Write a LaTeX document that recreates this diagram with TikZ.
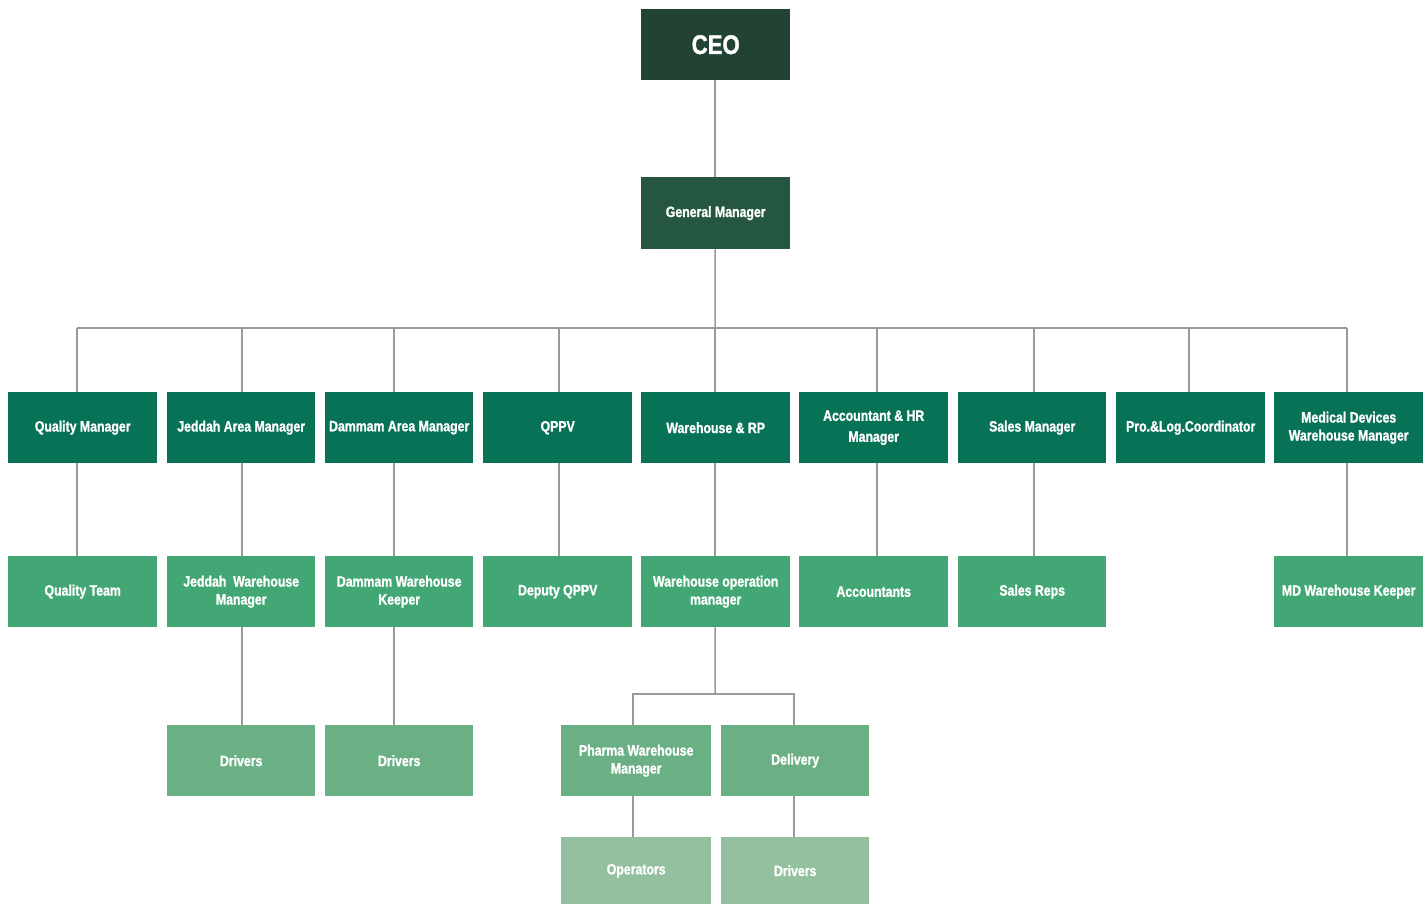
\documentclass[tikz,border=0pt]{standalone}
\usepackage{fontspec}
\setmainfont{Liberation Sans}[FakeStretch=0.82, BoldFont={Liberation Sans Bold}, BoldFeatures={FakeStretch=0.82, FakeBold=1.2}]
\definecolor{cCEO}{HTML}{224334}
\definecolor{cGM}{HTML}{255740}
\definecolor{cL2}{HTML}{087257}
\definecolor{cL3}{HTML}{42A774}
\definecolor{cL4}{HTML}{6BAF85}
\definecolor{cL5}{HTML}{93C09E}
\definecolor{cLine}{HTML}{9A9A9A}
\tikzset{
  box/.style={anchor=north west, inner sep=0pt, text=white, align=center,
    minimum width=149pt, minimum height=71pt,
    font=\bfseries\fontsize{15}{18}\selectfont},
  lvA/.style={box, fill=cL2},
  lvB/.style={box, fill=cL3},
  lvC/.style={box, fill=cL4},
  lvD/.style={box, fill=cL5, minimum height=67pt},
  conn/.style={draw=cLine, line width=1.5pt},
}
\begin{document}
\begin{tikzpicture}[x=1pt,y=-1pt]
\useasboundingbox[fill=white] (0,0) rectangle (1427,904);
% top
\node[box, fill=cCEO, font=\bfseries\fontsize{27}{30}\selectfont] (ceo) at (641,9) {CEO};
\node[box, fill=cGM, minimum height=72pt] (gm) at (641,177) {General Manager};
% level 2
\node[lvA] (qm)  at (8,392)    {Quality Manager};
\node[lvA, minimum width=148pt] (jam) at (167,392)  {Jeddah Area Manager};
\node[lvA, minimum width=148pt] (dam) at (325,392)  {Dammam Area Manager};
\node[lvA] (qp)  at (483,392)  {QPPV};
\node[lvA] (wrp) at (641,392)  {Warehouse \& RP};
\node[lvA, font=\bfseries\fontsize{15}{21}\selectfont] (ahr) at (799,392)  {Accountant \& HR\\Manager};
\node[lvA, minimum width=148pt] (sm)  at (958,392)  {Sales Manager};
\node[lvA] (plc) at (1116,392) {Pro.\&Log.Coordinator};
\node[lvA] (mdw) at (1274,392) {Medical Devices\\Warehouse Manager};
% level 3
\node[lvB] (qt)  at (8,556)    {Quality Team};
\node[lvB, minimum width=148pt] (jwm) at (167,556)  {Jeddah\ \ Warehouse\\Manager};
\node[lvB, minimum width=148pt] (dwk) at (325,556)  {Dammam Warehouse\\Keeper};
\node[lvB] (dq)  at (483,556)  {Deputy QPPV};
\node[lvB] (wom) at (641,556)  {Warehouse operation\\manager};
\node[lvB] (acc) at (799,556)  {Accountants};
\node[lvB, minimum width=148pt] (sr)  at (958,556)  {Sales Reps};
\node[lvB] (mdk) at (1274,556) {MD Warehouse Keeper};
% level 4
\node[lvC, minimum width=148pt] (drj) at (167,725) {Drivers};
\node[lvC, minimum width=148pt] (drd) at (325,725) {Drivers};
\node[lvC, minimum width=150pt] (pwm) at (561,725) {Pharma Warehouse\\Manager};
\node[lvC, minimum width=148pt] (del) at (721,725) {Delivery};
% level 5
\node[lvD, minimum width=150pt] (ops) at (561,837) {Operators};
\node[lvD, minimum width=148pt] (drv) at (721,837) {Drivers};
% connectors
\coordinate (bus) at (715,328);
\coordinate (busL) at (77,328);
\coordinate (busR) at (1347,328);
\draw[conn] ([xshift=-0.5]ceo.south) -- ([xshift=-0.5]gm.north);
\draw[conn] ([xshift=-0.5]gm.south) -- (bus);
\draw[conn] (busL) -- (busR);
\foreach \n/\s in {qm/-5.5, jam/1, dam/-5, qp/1.5, wrp/-0.5, ahr/3.5, sm/2, plc/-1.5, mdw/-1.5}{
  \draw[conn] ([xshift=\s]\n.north) -- ([xshift=\s]\n.north |- bus);
}
\draw[conn] ([xshift=-5.5]qm.south) -- ([xshift=-5.5]qm.south |- qt.north);
\draw[conn] ([xshift=1]jam.south) -- ([xshift=1]jam.south |- jwm.north);
\draw[conn] ([xshift=-5]dam.south) -- ([xshift=-5]dam.south |- dwk.north);
\draw[conn] ([xshift=1.5]qp.south) -- ([xshift=1.5]qp.south |- dq.north);
\draw[conn] ([xshift=-0.5]wrp.south) -- ([xshift=-0.5]wrp.south |- wom.north);
\draw[conn] ([xshift=3.5]ahr.south) -- ([xshift=3.5]ahr.south |- acc.north);
\draw[conn] ([xshift=2]sm.south) -- ([xshift=2]sm.south |- sr.north);
\draw[conn] ([xshift=-1.5]mdw.south) -- ([xshift=-1.5]mdw.south |- mdk.north);
\draw[conn] ([xshift=1]jwm.south) -- ([xshift=1]jwm.south |- drj.north);
\draw[conn] ([xshift=-5]dwk.south) -- ([xshift=-5]dwk.south |- drd.north);
\coordinate (wbus) at (715,694);
\draw[conn] ([xshift=-0.5]wom.south) -- (wbus);
\draw[conn] ([xshift=-3]pwm.north) |- (wbus) -| ([xshift=-1]del.north);
\draw[conn] ([xshift=-3]pwm.south) -- ([xshift=-3]pwm.south |- ops.north);
\draw[conn] ([xshift=-1]del.south) -- ([xshift=-1]del.south |- drv.north);
\end{tikzpicture}
\end{document}
